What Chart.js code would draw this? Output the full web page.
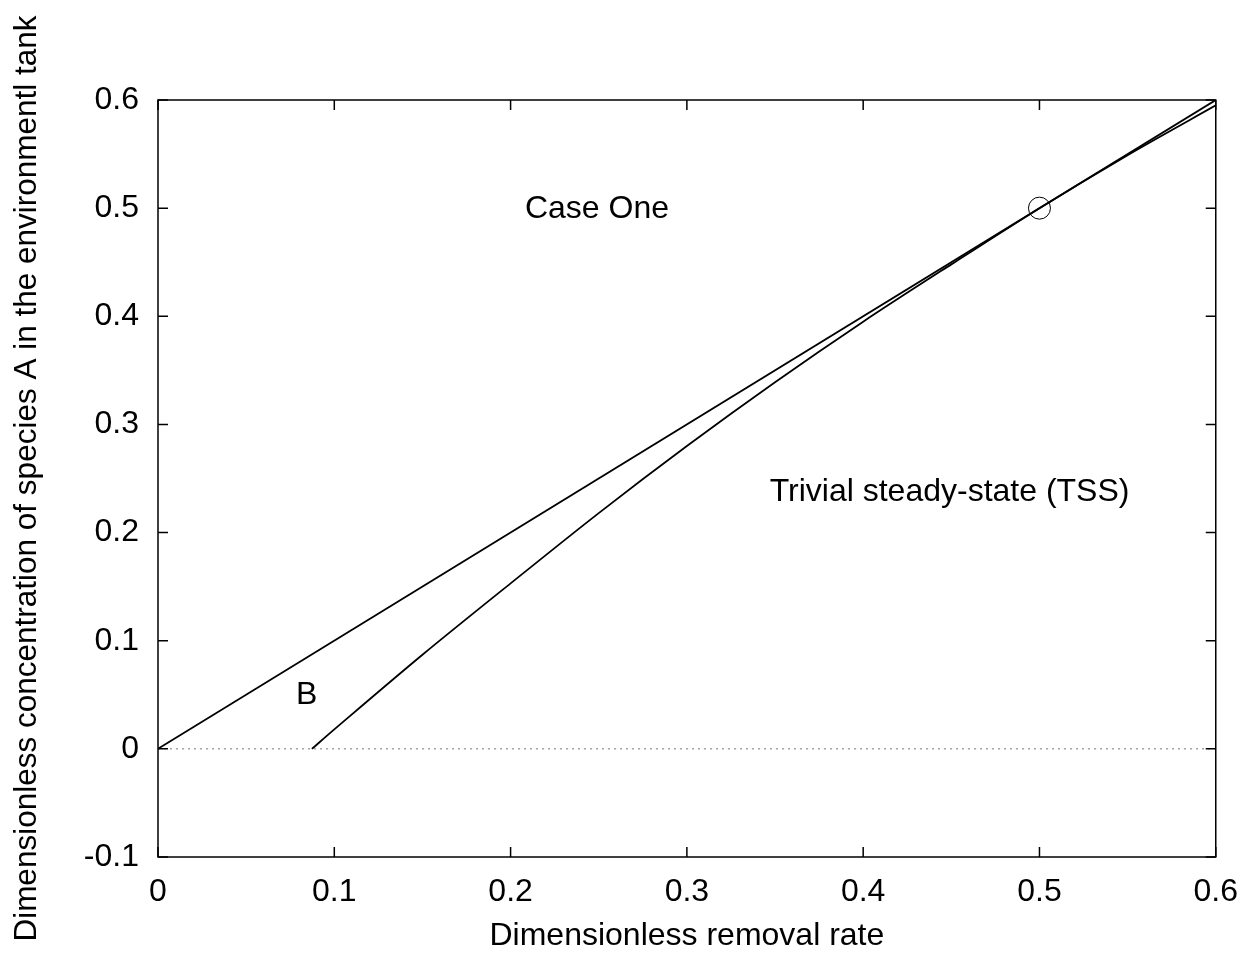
<!DOCTYPE html>
<html>
<head>
<meta charset="utf-8">
<script src="https://cdn.jsdelivr.net/npm/chart.js@4.4.1/dist/chart.umd.min.js"></script>
<style>
  html, body { margin: 0; padding: 0; background: #fff; }
</style>
</head>
<body>
<canvas id="myChart" width="1254" height="955"></canvas>
<script>
// straight boundary (from origin)
const upperX = [0, 0.6];
const upperY = [0, 0.6];
// curved boundary
const lowerX = [0.0873, 0.1, 0.15, 0.2, 0.25, 0.3, 0.35, 0.4, 0.45, 0.5, 0.55, 0.6];
const lowerY = [0, 0.018, 0.087, 0.153, 0.218, 0.280, 0.339, 0.395, 0.448, 0.5, 0.549, 0.595];
// marked point
const pointX = [0.5];
const pointY = [0.5];
// zero reference line
const zeroX = [0, 0.6];
const zeroY = [0, 0];
// tick values
const xTicks = [0, 0.1, 0.2, 0.3, 0.4, 0.5, 0.6];
const yTicks = [-0.1, 0, 0.1, 0.2, 0.3, 0.4, 0.5, 0.6];
// annotations
const labels = [
  { text: 'Case One', x: 0.249, y: 0.499 },
  { text: 'Trivial steady-state (TSS)', x: 0.449, y: 0.237 },
  { text: 'B', x: 0.0844, y: 0.050 }
];

const FONT = 'Liberation Sans, Arial, sans-serif';
const SIZE = 32;
const toPts = (xs, ys) => xs.map((x, i) => ({ x: x, y: ys[i] }));
const fmt = v => String(Math.round(v * 10) / 10);

// frame, inward ticks on all four sides, and text labels
const framePlugin = {
  id: 'frame',
  afterDatasetsDraw(chart) {
    const { ctx, chartArea: a, scales } = chart;
    const len = 10;
    ctx.save();
    ctx.strokeStyle = '#000';
    ctx.lineWidth = 1.5;
    ctx.strokeRect(a.left, a.top, a.right - a.left, a.bottom - a.top);
    ctx.beginPath();
    xTicks.forEach(v => {
      const px = scales.x.getPixelForValue(v);
      ctx.moveTo(px, a.bottom); ctx.lineTo(px, a.bottom - len);
      ctx.moveTo(px, a.top); ctx.lineTo(px, a.top + len);
    });
    yTicks.forEach(v => {
      const py = scales.y.getPixelForValue(v);
      ctx.moveTo(a.left, py); ctx.lineTo(a.left + len, py);
      ctx.moveTo(a.right, py); ctx.lineTo(a.right - len, py);
    });
    ctx.stroke();
    ctx.fillStyle = '#000';
    ctx.font = SIZE + 'px ' + FONT;
    ctx.textAlign = 'center';
    ctx.textBaseline = 'middle';
    labels.forEach(l => {
      ctx.fillText(l.text, scales.x.getPixelForValue(l.x), scales.y.getPixelForValue(l.y));
    });
    ctx.restore();
  },
  beforeDraw(chart) {
    const { ctx } = chart;
    ctx.save();
    ctx.fillStyle = '#fff';
    ctx.fillRect(0, 0, chart.width, chart.height);
    ctx.restore();
  }
};

new Chart(document.getElementById('myChart'), {
  type: 'scatter',
  data: {
    datasets: [
      {
        data: toPts(zeroX, zeroY),
        showLine: true,
        borderColor: '#777',
        borderWidth: 1,
        borderDash: [2, 4],
        pointRadius: 0
      },
      {
        data: toPts(upperX, upperY),
        showLine: true,
        borderColor: '#000',
        borderWidth: 1.8,
        pointRadius: 0
      },
      {
        data: toPts(lowerX, lowerY),
        showLine: true,
        borderColor: '#000',
        borderWidth: 1.8,
        tension: 0.3,
        pointRadius: 0
      },
      {
        data: toPts(pointX, pointY),
        showLine: false,
        pointStyle: 'circle',
        pointRadius: 11,
        pointBorderColor: '#000',
        pointBackgroundColor: 'rgba(0,0,0,0)',
        pointBorderWidth: 1
      }
    ]
  },
  options: {
    responsive: false,
    animation: false,
    layout: { padding: { top: 100, right: 32, left: 0, bottom: 0 } },
    scales: {
      x: {
        type: 'linear',
        min: 0,
        max: 0.6,
        afterBuildTicks: s => { s.ticks = xTicks.map(v => ({ value: v })); },
        afterFit: s => { s.height = 98; },
        grid: { display: false, drawTicks: false },
        border: { display: false },
        ticks: {
          color: '#000',
          padding: 16,
          maxRotation: 0,
          font: { family: FONT, size: SIZE },
          callback: v => fmt(v)
        },
        title: {
          display: true,
          text: 'Dimensionless removal rate',
          color: '#000',
          padding: { top: 0, bottom: 0 },
          font: { family: FONT, size: SIZE }
        }
      },
      y: {
        type: 'linear',
        min: -0.1,
        max: 0.6,
        afterBuildTicks: s => { s.ticks = yTicks.map(v => ({ value: v })); },
        afterFit: s => { s.width = 158; },
        grid: { display: false, drawTicks: false },
        border: { display: false },
        ticks: {
          color: '#000',
          padding: 19,
          font: { family: FONT, size: SIZE },
          callback: v => fmt(v)
        },
        title: {
          display: true,
          text: 'Dimensionless concentration of species A in the environmentl tank',
          color: '#000',
          padding: { top: 8, bottom: 0 },
          font: { family: FONT, size: 31.5 }
        }
      }
    },
    plugins: {
      legend: { display: false },
      tooltip: { enabled: false }
    }
  },
  plugins: [framePlugin]
});
</script>
</body>
</html>
